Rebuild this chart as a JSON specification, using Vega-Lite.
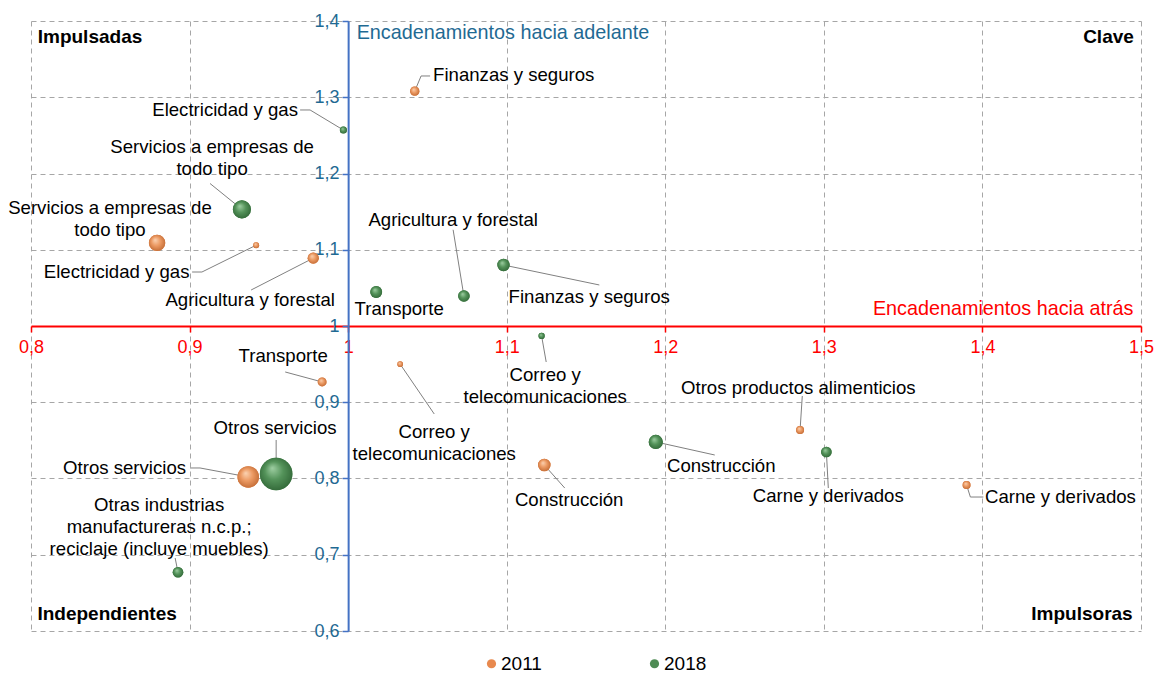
{
  "$schema": "https://vega.github.io/schema/vega-lite/v6.json",
  "width": 1110,
  "height": 610,
  "autosize": {"type": "none"},
  "padding": {"left": 31, "top": 21, "right": 15, "bottom": 42},
  "background": "white",
  "config": {
    "view": {"stroke": null},
    "font": "Liberation Sans",
    "text": {"font": "Liberation Sans"}
  },
  "datasets": {
    "puntos": [
      {"sector": "Finanzas y seguros", "anio": "2011", "atras": 1.042, "adelante": 1.308, "peso": 110},
      {"sector": "Servicios a empresas de todo tipo", "anio": "2011", "atras": 0.8795, "adelante": 1.109, "peso": 340},
      {"sector": "Electricidad y gas", "anio": "2011", "atras": 0.942, "adelante": 1.106, "peso": 45},
      {"sector": "Agricultura y forestal", "anio": "2011", "atras": 0.978, "adelante": 1.089, "peso": 160},
      {"sector": "Transporte", "anio": "2011", "atras": 0.9836, "adelante": 0.9266, "peso": 100},
      {"sector": "Correo y telecomunicaciones", "anio": "2011", "atras": 1.0328, "adelante": 0.95, "peso": 40},
      {"sector": "Otros servicios", "anio": "2011", "atras": 0.937, "adelante": 0.802, "peso": 590},
      {"sector": "Construcción", "anio": "2011", "atras": 1.1237, "adelante": 0.8177, "peso": 200},
      {"sector": "Otros productos alimenticios", "anio": "2011", "atras": 1.285, "adelante": 0.8636, "peso": 81},
      {"sector": "Carne y derivados", "anio": "2011", "atras": 1.39, "adelante": 0.7915, "peso": 81},
      {"sector": "Electricidad y gas", "anio": "2018", "atras": 0.997, "adelante": 1.257, "peso": 64},
      {"sector": "Servicios a empresas de todo tipo", "anio": "2018", "atras": 0.933, "adelante": 1.153, "peso": 420},
      {"sector": "Transporte", "anio": "2018", "atras": 1.0177, "adelante": 1.0446, "peso": 180},
      {"sector": "Agricultura y forestal", "anio": "2018", "atras": 1.073, "adelante": 1.0393, "peso": 170},
      {"sector": "Finanzas y seguros", "anio": "2018", "atras": 1.098, "adelante": 1.08, "peso": 196},
      {"sector": "Correo y telecomunicaciones", "anio": "2018", "atras": 1.122, "adelante": 0.987, "peso": 50},
      {"sector": "Otros servicios", "anio": "2018", "atras": 0.9546, "adelante": 0.806, "peso": 1350},
      {"sector": "Construcción", "anio": "2018", "atras": 1.194, "adelante": 0.848, "peso": 256},
      {"sector": "Carne y derivados", "anio": "2018", "atras": 1.3016, "adelante": 0.8347, "peso": 144},
      {"sector": "Otras industrias manufactureras n.c.p.; reciclaje (incluye muebles)", "anio": "2018", "atras": 0.8927, "adelante": 0.677, "peso": 144}
    ],
    "etiquetas": [
      {"texto": "Finanzas y seguros", "lx": 1.1044, "ly": 1.3292},
      {"texto": "Servicios a empresas de\ntodo tipo", "lx": 0.8498, "ly": 1.1548},
      {"texto": "Electricidad y gas", "lx": 0.854, "ly": 1.0708},
      {"texto": "Agricultura y forestal", "lx": 0.9382, "ly": 1.0341},
      {"texto": "Transporte", "lx": 0.959, "ly": 0.9607},
      {"texto": "Correo y\ntelecomunicaciones", "lx": 1.0543, "ly": 0.861},
      {"texto": "Otros servicios", "lx": 0.859, "ly": 0.8138},
      {"texto": "Construcción", "lx": 1.1394, "ly": 0.7718},
      {"texto": "Otros productos alimenticios", "lx": 1.2839, "ly": 0.9187},
      {"texto": "Carne y derivados", "lx": 1.4492, "ly": 0.7757},
      {"texto": "Electricidad y gas", "lx": 0.9224, "ly": 1.2833},
      {"texto": "Servicios a empresas de\ntodo tipo", "lx": 0.9142, "ly": 1.2348},
      {"texto": "Agricultura y forestal", "lx": 1.0662, "ly": 1.139},
      {"texto": "Transporte", "lx": 1.0322, "ly": 1.0223},
      {"texto": "Finanzas y seguros", "lx": 1.152, "ly": 1.038},
      {"texto": "Correo y\ntelecomunicaciones", "lx": 1.1243, "ly": 0.9357},
      {"texto": "Otros servicios", "lx": 0.9539, "ly": 0.8662},
      {"texto": "Construcción", "lx": 1.2353, "ly": 0.8164},
      {"texto": "Carne y derivados", "lx": 1.3028, "ly": 0.777},
      {"texto": "Otras industrias\nmanufactureras n.c.p.;\nreciclaje (incluye muebles)", "lx": 0.8808, "ly": 0.7652}
    ],
    "guias": [
      {"x1": 1.042, "y1": 1.308, "x2": 1.046, "y2": 1.3279},
      {"x1": 1.046, "y1": 1.3279, "x2": 1.0517, "y2": 1.3279},
      {"x1": 0.942, "y1": 1.106, "x2": 0.9078, "y2": 1.0708},
      {"x1": 0.9078, "y1": 1.0708, "x2": 0.9016, "y2": 1.0708},
      {"x1": 0.978, "y1": 1.089, "x2": 0.9388, "y2": 1.0472},
      {"x1": 0.9836, "y1": 0.9266, "x2": 0.9603, "y2": 0.9397},
      {"x1": 1.0328, "y1": 0.95, "x2": 1.0543, "y2": 0.8846},
      {"x1": 0.937, "y1": 0.802, "x2": 0.9066, "y2": 0.8138},
      {"x1": 0.9066, "y1": 0.8138, "x2": 0.9003, "y2": 0.8138},
      {"x1": 1.1237, "y1": 0.8177, "x2": 1.1366, "y2": 0.7875},
      {"x1": 1.285, "y1": 0.8636, "x2": 1.2864, "y2": 0.9082},
      {"x1": 1.39, "y1": 0.7915, "x2": 1.3924, "y2": 0.7757},
      {"x1": 1.3924, "y1": 0.7757, "x2": 1.4006, "y2": 0.7757},
      {"x1": 0.997, "y1": 1.257, "x2": 0.976, "y2": 1.2833},
      {"x1": 0.976, "y1": 1.2833, "x2": 0.9697, "y2": 1.2833},
      {"x1": 0.933, "y1": 1.153, "x2": 0.9129, "y2": 1.1869},
      {"x1": 1.073, "y1": 1.0393, "x2": 1.0662, "y2": 1.1262},
      {"x1": 1.098, "y1": 1.08, "x2": 1.1584, "y2": 1.0538},
      {"x1": 1.122, "y1": 0.987, "x2": 1.1249, "y2": 0.9528},
      {"x1": 0.9546, "y1": 0.806, "x2": 0.9546, "y2": 0.8505},
      {"x1": 1.194, "y1": 0.848, "x2": 1.2312, "y2": 0.8308},
      {"x1": 1.3016, "y1": 0.8347, "x2": 1.3028, "y2": 0.7875},
      {"x1": 0.8927, "y1": 0.677, "x2": 0.8909, "y2": 0.6957}
    ],
    "esquinas": [
      {"texto": "Impulsadas", "cx": 0.8372, "cy": 1.379},
      {"texto": "Clave", "cx": 1.4795, "cy": 1.379},
      {"texto": "Independientes", "cx": 0.848, "cy": 0.6223},
      {"texto": "Impulsoras", "cx": 1.4628, "cy": 0.6223}
    ]
  },
  "layer": [
    {
      "data": {"name": "guias"},
      "mark": {"type": "rule", "color": "#808080", "strokeWidth": 1},
      "encoding": {
        "x": {
          "field": "x1", "type": "quantitative",
          "scale": {"domain": [0.8, 1.5], "nice": false, "zero": false},
          "axis": {
            "orient": "bottom",
            "offset": -305,
            "values": [0.8, 0.9, 1, 1.1, 1.2, 1.3, 1.4, 1.5],
            "labelExpr": "replace(format(datum.value, '.1~f'), '.', ',')",
            "grid": true,
            "gridDash": [5, 4],
            "gridColor": "#a6a6a6",
            "gridWidth": 1,
            "domainColor": "#FF0000",
            "domainWidth": 2,
            "tickColor": "#FF0000",
            "tickSize": 6,
            "tickWidth": 1.5,
            "labelColor": "#FF0000",
            "labelFont": "Liberation Sans",
            "labelFontSize": 18,
            "labelPadding": 6,
            "labelFlush": false,
            "labelOverlap": false,
            "title": "Encadenamientos hacia atrás",
            "titleColor": "#FF0000",
            "titleFont": "Liberation Sans",
            "titleFontSize": 19.8,
            "titleFontWeight": "normal",
            "titleAngle": 0,
            "titleAlign": "right",
            "titleBaseline": "middle",
            "titleX": 1102,
            "titleY": -18
          }
        },
        "y": {
          "field": "y1", "type": "quantitative",
          "scale": {"domain": [0.6, 1.4], "nice": false, "zero": false},
          "axis": {
            "orient": "left",
            "offset": -317.14,
            "values": [0.6, 0.7, 0.8, 0.9, 1, 1.1, 1.2, 1.3, 1.4],
            "labelExpr": "replace(format(datum.value, '.1~f'), '.', ',')",
            "grid": true,
            "gridDash": [5, 4],
            "gridColor": "#a6a6a6",
            "gridWidth": 1,
            "domainColor": "#4472C4",
            "domainWidth": 2,
            "tickColor": "#4472C4",
            "tickSize": 6,
            "tickWidth": 1.5,
            "labelColor": "#1F6A93",
            "labelFont": "Liberation Sans",
            "labelFontSize": 18,
            "labelPadding": 3,
            "labelFlush": false,
            "labelOverlap": false,
            "title": "Encadenamientos hacia adelante",
            "titleColor": "#1F6A93",
            "titleFont": "Liberation Sans",
            "titleFontSize": 19.8,
            "titleFontWeight": "normal",
            "titleAngle": 0,
            "titleAlign": "left",
            "titleBaseline": "middle",
            "titleX": 8,
            "titleY": 11
          }
        },
        "x2": {"field": "x2"},
        "y2": {"field": "y2"}
      }
    },
    {
      "data": {"name": "puntos"},
      "mark": {"type": "point", "filled": true, "opacity": 1, "strokeWidth": 0},
      "encoding": {
        "x": {"field": "atras", "type": "quantitative"},
        "y": {"field": "adelante", "type": "quantitative"},
        "size": {
          "field": "peso", "type": "quantitative",
          "scale": {"domain": [0, 1000], "range": [0, 785]},
          "legend": null
        },
        "color": {
          "field": "anio", "type": "nominal",
          "scale": {"domain": ["2011", "2018"], "range": ["#E8894E", "#4E8B54"]},
          "legend": {
            "title": null,
            "orient": "none",
            "direction": "horizontal",
            "legendX": 451,
            "legendY": 633,
            "padding": 0,
            "symbolType": "circle",
            "symbolSize": 85,
            "symbolStrokeWidth": 0,
            "labelFont": "Liberation Sans",
            "labelFontSize": 19,
            "labelColor": "#000000",
            "labelOffset": 0,
            "columnPadding": 103
          }
        }
      }
    },
    {
      "data": {"name": "puntos"},
      "mark": {"type": "point", "filled": true, "opacity": 1, "strokeWidth": 0},
      "encoding": {
        "x": {"field": "atras", "type": "quantitative"},
        "y": {"field": "adelante", "type": "quantitative"},
        "size": {"field": "peso", "type": "quantitative", "legend": null},
        "fill": {
          "condition": {
            "test": "datum.anio === '2011'",
            "value": {
              "gradient": "radial",
              "x1": 0.38, "y1": 0.32, "r1": 0,
              "x2": 0.5, "y2": 0.5, "r2": 0.62,
              "stops": [
                {"offset": 0, "color": "#FBD3B3"},
                {"offset": 0.45, "color": "#EC9A63"},
                {"offset": 1, "color": "#B9612B"}
              ]
            }
          },
          "value": {
            "gradient": "radial",
            "x1": 0.38, "y1": 0.32, "r1": 0,
            "x2": 0.5, "y2": 0.5, "r2": 0.62,
            "stops": [
              {"offset": 0, "color": "#9FCFA3"},
              {"offset": 0.45, "color": "#54935A"},
              {"offset": 1, "color": "#2A5E30"}
            ]
          }
        }
      }
    },
    {
      "data": {"name": "etiquetas"},
      "mark": {"type": "text", "align": "center", "baseline": "middle", "fontSize": 18.6, "font": "Liberation Sans", "color": "#000000", "lineBreak": "\n", "lineHeight": 22},
      "encoding": {
        "x": {"field": "lx", "type": "quantitative"},
        "y": {"field": "ly", "type": "quantitative"},
        "text": {"field": "texto"}
      }
    },
    {
      "data": {"name": "esquinas"},
      "mark": {"type": "text", "align": "center", "baseline": "middle", "fontSize": 19, "fontWeight": "bold", "font": "Liberation Sans", "color": "#000000"},
      "encoding": {
        "x": {"field": "cx", "type": "quantitative"},
        "y": {"field": "cy", "type": "quantitative"},
        "text": {"field": "texto"}
      }
    }
  ]
}
